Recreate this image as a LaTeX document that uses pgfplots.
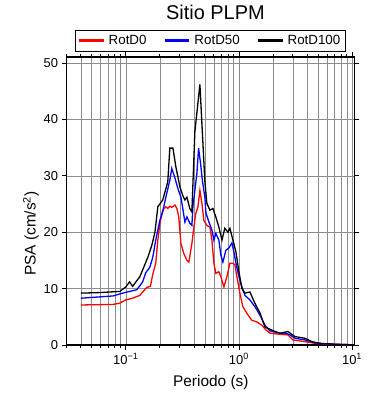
\documentclass[border=0pt]{standalone}
\usepackage{pgfplots}
\pgfplotsset{compat=1.18}
\usepackage{pgfplotstable}
\usepackage{fontspec}
\setmainfont{Liberation Sans}
\pgfplotstableread{
T psa
0.040 7.1
0.077 7.2
0.088 7.4
0.100 8.0
0.115 8.3
0.133 8.8
0.141 9.4
0.153 10.2
0.165 10.4
0.173 12.5
0.184 14.5
0.192 18.6
0.200 21.5
0.212 23.9
0.226 24.5
0.235 24.2
0.245 24.6
0.255 24.4
0.272 24.8
0.283 24.2
0.294 22.7
0.307 18.0
0.326 16.2
0.347 15.0
0.361 14.7
0.384 18.0
0.400 20.9
0.416 23.3
0.434 24.5
0.452 27.4
0.471 25.1
0.490 22.1
0.521 21.2
0.554 20.9
0.577 18.6
0.601 14.5
0.625 12.7
0.665 13.0
0.693 12.1
0.737 10.3
0.783 12.1
0.832 14.5
0.885 14.5
0.922 14.2
0.960 12.1
1.02 9.2
1.063 7.5
1.085 6.8
1.177 5.6
1.30 4.4
1.44 4.1
1.60 3.5
1.73 2.7
1.881 2.1
2.306 1.9
2.71 1.8
3.01 0.9
3.84 0.6
4.71 0.3
6.5 0.12
10.0 0.05
}\rotdzero
\pgfplotstableread{
T psa
0.040 8.3
0.077 8.7
0.094 9.2
0.108 9.5
0.125 9.8
0.133 10.5
0.141 11.2
0.150 12.8
0.163 13.8
0.173 15.5
0.184 18.6
0.200 22.1
0.212 23.6
0.226 26.2
0.245 29.2
0.255 31.3
0.272 29.6
0.289 27.7
0.307 26.2
0.319 24.2
0.333 21.8
0.347 22.7
0.368 21.6
0.384 21.2
0.392 24.5
0.408 27.4
0.425 30.4
0.440 34.9
0.458 32.2
0.475 29.2
0.500 26.2
0.511 23.4
0.543 21.8
0.577 20.4
0.601 18.6
0.625 19.8
0.665 18.6
0.693 15.9
0.722 14.7
0.767 16.8
0.816 17.2
0.867 18.1
0.903 16.5
0.941 14.5
1.00 12.1
1.063 10.3
1.13 8.8
1.25 8.0
1.385 6.8
1.534 5.3
1.70 3.5
1.88 2.5
2.083 2.3
2.306 2.1
2.61 2.1
2.827 1.8
3.13 1.2
3.84 0.9
4.71 0.4
5.77 0.2
10.0 0.05
}\rotdfifty
\pgfplotstableread{
T psa
0.040 9.2
0.059 9.3
0.072 9.4
0.0885 9.5
0.100 10.3
0.108 11.2
0.115 10.4
0.125 11.4
0.133 12.1
0.147 14.2
0.157 15.6
0.170 17.7
0.181 20.0
0.192 24.5
0.212 25.7
0.235 28.9
0.245 34.9
0.261 34.9
0.277 31.6
0.301 28.0
0.319 26.5
0.333 25.7
0.347 26.2
0.368 24.2
0.384 23.6
0.408 37.8
0.452 46.2
0.500 29.0
0.521 25.1
0.554 23.9
0.589 24.2
0.625 22.7
0.665 20.9
0.708 18.6
0.751 20.7
0.800 20.0
0.832 20.7
0.885 18.6
0.941 16.5
1.00 13.0
1.063 10.0
1.13 9.2
1.25 9.4
1.385 7.4
1.534 5.7
1.699 3.2
1.881 2.8
2.083 2.4
2.306 2.1
2.71 2.4
3.13 1.5
3.84 1.2
4.43 0.6
5.21 0.3
7.83 0.1
10.0 0.05
}\rotdhundred
\begin{document}
\begin{tikzpicture}
\useasboundingbox (-66.7bp,-55bp) rectangle (323.3bp,345.3bp);
\begin{axis}[
  at={(0,0)}, anchor=south west,
  scale only axis, width=288bp, height=288bp,
  xmode=log, xmin=0.03, xmax=10.5, ymin=0, ymax=51,
  log basis x=10,
  xtick={0.1,1,10},
  xticklabels={{10\textsuperscript{−1}},{10\textsuperscript{0}},{10\textsuperscript{1}}},
  minor xtick={0.03,0.04,0.05,0.06,0.07,0.08,0.09,0.2,0.3,0.4,0.5,0.6,0.7,0.8,0.9,2,3,4,5,6,7,8,9},
  ytick={0,10,20,30,40,50},
  yticklabel style={/pgf/number format/assume math mode=true},
  tick label style={font=\fontsize{13}{14}\selectfont},
  tick align=outside,
  major tick length=5bp, minor tick length=3bp,
  tick style={black, line width=0.8bp},
  xmajorgrids, xminorgrids, ymajorgrids,
  grid style={black!45, line width=0.5bp},
  minor grid style={black!45, line width=0.5bp},
  axis line style={line width=1.6bp},
  xtick pos=both, ytick pos=both,
  xticklabel pos=lower, yticklabel pos=left,
  xlabel={Periodo (s)},
  ylabel={PSA (cm/s\textsuperscript{2})},
  label style={font=\fontsize{15.5}{17}\selectfont},
  xlabel style={at={(axis description cs:0.501,-0.131)}, anchor=center},
  ylabel style={at={(axis description cs:-0.124,0.387)}, anchor=center},
  title={Sitio PLPM},
  title style={at={(axis description cs:0.517,1)}, anchor=center, yshift=39bp, font=\fontsize{20}{22}\selectfont},
  legend columns=3,
  legend style={at={(axis description cs:0.5,1)}, anchor=south, yshift=5bp,
    draw=black, line width=0.9bp, inner sep=2bp,
    font=\fontsize{13.4}{15}\selectfont,
    nodes={inner sep=3.5bp},
    /tikz/every even column/.append style={column sep=13bp}},
  legend image code/.code={\draw[#1, line width=3bp] (0bp,0bp) -- (25bp,0bp);},
]
\addplot[red, line width=1.3bp] table[x=T, y=psa] {\rotdzero};
\addlegendentry{RotD0}
\addplot[blue, line width=1.3bp] table[x=T, y=psa] {\rotdfifty};
\addlegendentry{RotD50}
\addplot[black, line width=1.3bp] table[x=T, y=psa] {\rotdhundred};
\addlegendentry{RotD100}
\end{axis}
\end{tikzpicture}
\end{document}
